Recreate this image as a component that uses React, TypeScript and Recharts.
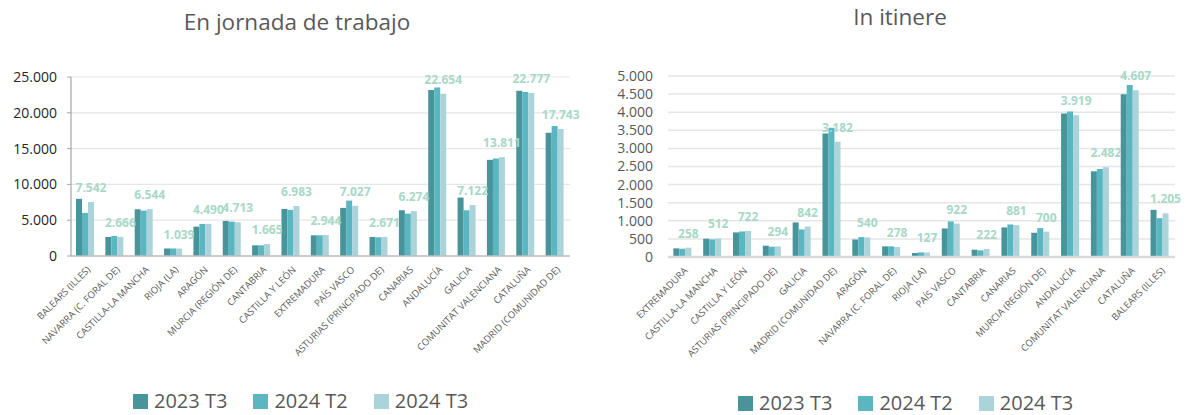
import React from "react";
import { BarChart, Bar, XAxis, YAxis, CartesianGrid, LabelList } from "recharts";

const seriesNames = ["2023 T3", "2024 T2", "2024 T3"];
const seriesColors = ["#47949A", "#5AB6C1", "#AAD3DA"];

const jornadaCategories = [
  "BALEARS (ILLES)", "NAVARRA (C. FORAL DE)", "CASTILLA-LA MANCHA", "RIOJA (LA)", "ARAGÓN",
  "MURCIA (REGIÓN DE)", "CANTABRIA", "CASTILLA Y LEÓN", "EXTREMADURA", "PAÍS VASCO",
  "ASTURIAS (PRINCIPADO DE)", "CANARIAS", "ANDALUCÍA", "GALICIA", "COMUNITAT VALENCIANA",
  "CATALUÑA", "MADRID (COMUNIDAD DE)",
];
const jornada2023T3 = [7980, 2660, 6530, 1050, 4100, 4900, 1490, 6580, 2890, 6720, 2660, 6390, 23180, 8160, 13430, 23090, 17210];
const jornada2024T2 = [6020, 2800, 6340, 1050, 4480, 4800, 1490, 6440, 2890, 7740, 2610, 5920, 23550, 6390, 13620, 22900, 18140];
const jornada2024T3 = [7542, 2666, 6544, 1039, 4490, 4713, 1665, 6983, 2944, 7027, 2671, 6274, 22654, 7122, 13811, 22777, 17743];
const jornadaTicks = [0, 5000, 10000, 15000, 20000, 25000];

const itinereCategories = [
  "EXTREMADURA", "CASTILLA-LA MANCHA", "CASTILLA Y LEÓN", "ASTURIAS (PRINCIPADO DE)", "GALICIA",
  "MADRID (COMUNIDAD DE)", "ARAGÓN", "NAVARRA (C. FORAL DE)", "RIOJA (LA)", "PAÍS VASCO",
  "CANTABRIA", "CANARIAS", "MURCIA (REGIÓN DE)", "ANDALUCÍA", "COMUNITAT VALENCIANA",
  "CATALUÑA", "BALEARS (ILLES)",
];
const itinere2023T3 = [238, 505, 679, 312, 954, 3413, 486, 294, 110, 789, 202, 817, 670, 3963, 2367, 4495, 1303];
const itinere2024T2 = [229, 486, 706, 284, 761, 3569, 550, 294, 128, 982, 183, 899, 798, 4018, 2431, 4752, 1073];
const itinere2024T3 = [258, 512, 722, 294, 842, 3182, 540, 278, 127, 922, 222, 881, 700, 3919, 2482, 4607, 1205];
const itinereTicks = [0, 500, 1000, 1500, 2000, 2500, 3000, 3500, 4000, 4500, 5000];

const jornadaData = jornadaCategories.map((name, i) => ({
  name, s1: jornada2023T3[i], s2: jornada2024T2[i], s3: jornada2024T3[i],
}));
const itinereData = itinereCategories.map((name, i) => ({
  name, s1: itinere2023T3[i], s2: itinere2024T2[i], s3: itinere2024T3[i],
}));

const FONT = "'Open Sans', 'Noto Sans', sans-serif";
const fmt = (v: any) => String(v).replace(/\B(?=(\d{3})+(?!\d))/g, ".");

const AngledTick = (props: any) => {
  const { x, y, payload } = props;
  return (
    <g transform={`translate(${x + 3},${y + 12})`}>
      <text
        x={0}
        y={0}
        dy="0.35em"
        textAnchor="end"
        transform="rotate(-45)"
        fontSize={9.5}
        fill="#595959"
        fontFamily={FONT}
      >
        {payload.value}
      </text>
    </g>
  );
};

const LegendBox = ({ left, top }: { left: number; top: number }) => (
  <div
    style={{
      position: "absolute",
      left,
      top,
      display: "flex",
      alignItems: "center",
      fontFamily: FONT,
      fontSize: 20,
      color: "#595959",
      lineHeight: "26px",
      whiteSpace: "nowrap",
    }}
  >
    {seriesNames.map((n, i) => (
      <div key={n} style={{ display: "flex", alignItems: "center", marginRight: 26 }}>
        <div style={{ width: 15, height: 15, background: seriesColors[i], marginRight: 6 }} />
        <span>{n}</span>
      </div>
    ))}
  </div>
);

const Title = ({ text, cx, cy }: { text: string; cx: number; cy: number }) => (
  <div
    style={{
      position: "absolute",
      left: cx - 200,
      width: 400,
      top: cy - 15,
      height: 30,
      lineHeight: "30px",
      textAlign: "center",
      fontFamily: FONT,
      fontSize: 22.5,
      color: "#595959",
    }}
  >
    {text}
  </div>
);

const labelStyle = { fill: "#A8D8C6", fontSize: 12, fontWeight: 700, fontFamily: FONT };

export default function App() {
  return (
    <div style={{ position: "absolute", left: 0, top: 0, width: 1187, height: 415, background: "#fff", overflow: "hidden" }}>
      <Title text="En jornada de trabajo" cx={297} cy={22} />
      <Title text="In itinere" cx={900} cy={17} />

      <div style={{ position: "absolute", left: 0, top: 0 }}>
        <BarChart
          width={600}
          height={415}
          data={jornadaData}
          margin={{ top: 77, right: 30, bottom: 0, left: 11 }}
          barCategoryGap="17%"
          barGap={0}
        >
          <CartesianGrid vertical={false} stroke="#E6E6E6" strokeWidth={1.2} />
          <XAxis
            dataKey="name"
            interval={0}
            height={159}
            tick={<AngledTick />}
            tickLine={false}
            tickSize={0}
            tickMargin={0}
            axisLine={{ stroke: "#BFBFBF", strokeWidth: 1.5 }}
          />
          <YAxis
            width={60}
            domain={[0, 25000]}
            ticks={jornadaTicks}
            tickFormatter={fmt}
            interval={0}
            tickSize={4}
            tickMargin={10}
            tickLine={{ stroke: "#A6A6A6" }}
            axisLine={{ stroke: "#A6A6A6", strokeWidth: 1.2 }}
            tick={{ fill: "#262626", fontSize: 14, fontFamily: FONT }}
          />
          <Bar dataKey="s1" name={seriesNames[0]} fill={seriesColors[0]} isAnimationActive={false} />
          <Bar dataKey="s2" name={seriesNames[1]} fill={seriesColors[1]} isAnimationActive={false} />
          <Bar dataKey="s3" name={seriesNames[2]} fill={seriesColors[2]} isAnimationActive={false}>
            <LabelList dataKey="s3" position="top" offset={10} formatter={fmt} style={labelStyle} />
          </Bar>
        </BarChart>
      </div>

      <div style={{ position: "absolute", left: 600, top: 0 }}>
        <BarChart
          width={587}
          height={415}
          data={itinereData}
          margin={{ top: 76, right: 12, bottom: 0, left: 8 }}
          barCategoryGap="18%"
          barGap={0}
        >
          <CartesianGrid vertical={false} stroke="#E6E6E6" strokeWidth={1.5} />
          <XAxis
            dataKey="name"
            interval={0}
            height={158}
            tick={<AngledTick />}
            tickLine={false}
            tickSize={0}
            tickMargin={0}
            axisLine={{ stroke: "#D9D9D9", strokeWidth: 2.5 }}
          />
          <YAxis
            width={60}
            domain={[0, 5000]}
            ticks={itinereTicks}
            tickFormatter={fmt}
            interval={0}
            tickSize={0}
            tickMargin={15}
            tickLine={false}
            axisLine={false}
            tick={{ fill: "#595959", fontSize: 14, fontFamily: FONT }}
          />
          <Bar dataKey="s1" name={seriesNames[0]} fill={seriesColors[0]} isAnimationActive={false} />
          <Bar dataKey="s2" name={seriesNames[1]} fill={seriesColors[1]} isAnimationActive={false} />
          <Bar dataKey="s3" name={seriesNames[2]} fill={seriesColors[2]} isAnimationActive={false}>
            <LabelList dataKey="s3" position="top" offset={10} formatter={fmt} style={labelStyle} />
          </Bar>
        </BarChart>
      </div>

      <LegendBox left={133} top={388} />
      <LegendBox left={738} top={390} />
    </div>
  );
}
